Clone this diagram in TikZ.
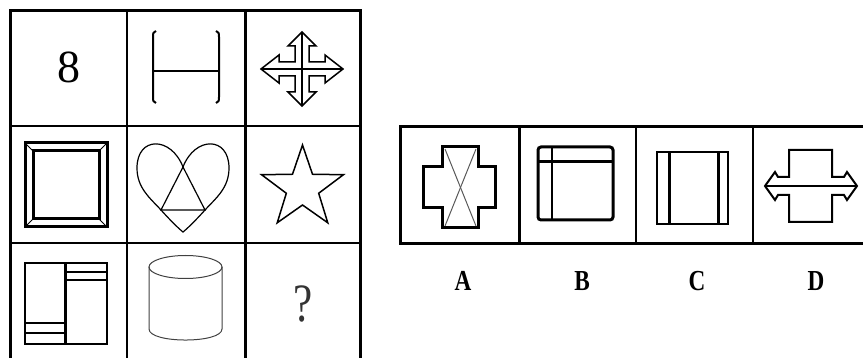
\documentclass[tikz,border=0pt]{standalone}
\usepackage{fontspec}
\setmainfont{Liberation Serif}
\newfontfamily\lserif{Liberation Serif}
\begin{document}
\begin{tikzpicture}[x=1pt,y=-1pt,line join=miter,
  outerline/.style={line width=3pt},
  innerline/.style={line width=2.2pt},
  heavy/.style={line width=3pt},
  medium/.style={line width=1.8pt},
  fine/.style={line width=1.2pt},
  hair/.style={line width=0.8pt},
  optlabel/.style={font=\lserif\fontsize{29}{29}\selectfont\bfseries, xscale=0.8, inner sep=0pt}]
\useasboundingbox (0,0) rectangle (863,358);
% ---------- left 3x3 grid ----------
\draw[outerline] (10,360) -- (10,11) -- (360,11) -- (360,360);
\draw[innerline] (10,126) -- (360,126);
\draw[innerline] (10,243) -- (360,243);
\draw[line width=1.8pt] (127,11) -- (127,360);
\draw[outerline] (245,11) -- (245,360);
% row 1
\node[font=\lserif\fontsize{46}{46}\selectfont, inner sep=0pt] (eight) at (68.5,67.5) {8};
\draw[line width=2pt] (156,31) .. controls (153,33) .. (153,37) -- (153,97) .. controls (153,101) .. (156,103);
\draw[line width=2pt] (216,31) .. controls (219,33) .. (219,37) -- (219,97) .. controls (219,101) .. (216,103);
\draw[line width=2pt] (153,71) -- (219,71);
\begin{scope}[shift={(302,69)}]
  \draw[line width=1.5pt] (-41,0) -- (-23,-14) -- (-23,-7) -- (-7,-7) -- (-7,-23) -- (-14,-23) -- (0,-37)
    -- (14,-23) -- (7,-23) -- (7,-7) -- (23,-7) -- (23,-14) -- (41,0)
    -- (23,14) -- (23,7) -- (7,7) -- (7,23) -- (14,23) -- (0,37)
    -- (-14,23) -- (-7,23) -- (-7,7) -- (-23,7) -- (-23,14) -- cycle;
  \draw[line width=2.4pt] (-41,0) -- (41,0);
  \draw[line width=2.4pt] (0,-37) -- (0,37);
\end{scope}
% row 2
\draw[heavy] (25,143) rectangle (107,227);
\draw[heavy] (33,151) rectangle (99,219);
\draw[hair] (25,143) -- (33,151);
\draw[hair] (107,143) -- (99,151);
\draw[hair] (25,227) -- (33,219);
\draw[hair] (107,227) -- (99,219);
\draw[fine] (183,167) .. controls (171,136) and (137,136) .. (137,168)
  .. controls (137,188) and (150,198) .. (161,210)
  .. controls (170,220) and (178,228) .. (183,232)
  .. controls (188,228) and (196,220) .. (205,210)
  .. controls (216,198) and (229,188) .. (229,168)
  .. controls (229,136) and (195,136) .. (183,167);
\draw[fine] (183,167) -- (161,210) -- (205,210) -- cycle;
\begin{scope}[shift={(302.5,188)}]
  \draw[line width=1.5pt] (-90:43) -- (-54:17) -- (-18:43) -- (18:17) -- (54:43) -- (90:17)
    -- (126:43) -- (162:17) -- (198:43) -- (234:17) -- cycle;
\end{scope}
% row 3
\draw[line width=2.5pt] (25,263) rectangle (107,344);
\draw[heavy] (65,263) -- (65,344);
\draw[line width=2.5pt] (65,272) -- (107,272);
\draw[line width=2.5pt] (65,280) -- (107,280);
\draw[line width=1.5pt] (25,323) -- (65,323);
\draw[line width=1.5pt] (25,333) -- (65,333);
\draw[line width=1pt, black!75] (185.5,267) ellipse [x radius=36.5, y radius=11.5];
\draw[line width=1pt, black!75] (149,267) -- (149,329) .. controls (149,343.7) and (222,343.7) .. (222,329) -- (222,267);
\node[font=\lserif\fontsize{54}{54}\selectfont, xscale=0.8, inner sep=0pt, text=black!80] (qmark) at (303,304) {?};
% ---------- answer options ----------
\draw[outerline] (870,127) -- (400,127) -- (400,244) -- (870,244);
\draw[outerline] (519,127) -- (519,244);
\draw[line width=1.5pt] (636,127) -- (636,244);
\draw[line width=1.5pt] (753,127) -- (753,244);
% A
\draw[heavy] (442,147) -- (478,147) -- (478,167) -- (495,167) -- (495,208) -- (478,208) -- (478,228)
  -- (442,228) -- (442,208) -- (423,208) -- (423,167) -- (442,167) -- cycle;
\draw[line width=1pt, black!65] (445,149) -- (476,226);
\draw[line width=1pt, black!65] (476,149) -- (445,226);
% B
\draw[heavy, rounded corners=3pt] (538,147) rectangle (613,220);
\draw[heavy] (538,162) -- (613,162);
\draw[fine] (552,147) -- (552,220);
% C
\draw[medium] (657,152) rectangle (728,224);
\draw[line width=2.6pt] (657,152) -- (728,152);
\draw[heavy] (669,152) -- (669,224);
\draw[heavy] (718,152) -- (718,224);
% D
\draw[line width=2pt] (765,186) -- (775,172) -- (778,177) -- (789,177) -- (789,150) -- (832,150) -- (832,177)
  -- (844,177) -- (847,172) -- (857,186) -- (847,200) -- (844,195) -- (832,195) -- (832,222)
  -- (789,222) -- (789,195) -- (778,195) -- (775,200) -- cycle;
\draw[line width=2.5pt] (765,186) -- (857,186);
% labels
\node[optlabel] (labA) at (463,281) {A};
\node[optlabel] (labB) at (582,281) {B};
\node[optlabel] (labC) at (697,281) {C};
\node[optlabel] (labD) at (816,281) {D};
\end{tikzpicture}
\end{document}
